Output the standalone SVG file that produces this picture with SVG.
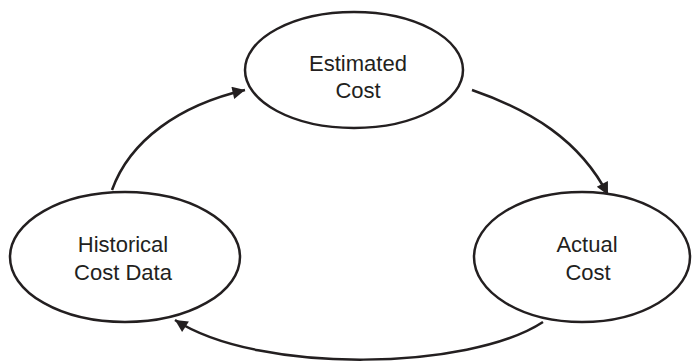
<svg xmlns="http://www.w3.org/2000/svg" width="692" height="364" viewBox="0 0 692 364">
<style>
.node ellipse{fill:#fff;stroke:#231f20;stroke-width:2.5}
.node text{font-family:"Liberation Sans",Arial,sans-serif;font-size:22px;fill:#231f20;text-anchor:middle}
.conn path{fill:none;stroke:#231f20;stroke-width:2.5}
</style>
<defs>
<marker id="arr" viewBox="0 0 10 10" refX="10" refY="5" markerWidth="6.5" markerHeight="5" markerUnits="strokeWidth" orient="auto">
<path d="M0,0 L10,5 L0,10 Z" fill="#231f20"/>
</marker>
</defs>
<rect width="692" height="364" fill="#fff"/>
<g id="connectors" class="conn">
<path d="M112,190 C130,140 180,105 245,90" marker-end="url(#arr)"/>
<path d="M472,90 C530,110 580,140 608,195" marker-end="url(#arr)"/>
<path d="M543,322 C470,370 260,375 175,320" marker-end="url(#arr)"/>
</g>
<g id="estimated" class="node">
<ellipse cx="354" cy="70" rx="109" ry="58"/>
<text x="358" y="71">Estimated</text>
<text x="358" y="98">Cost</text>
</g>
<g id="historical" class="node">
<ellipse cx="125" cy="257" rx="115" ry="65"/>
<text x="123" y="252">Historical</text>
<text x="123" y="280">Cost Data</text>
</g>
<g id="actual" class="node">
<ellipse cx="582" cy="257" rx="108" ry="65"/>
<text x="587" y="252">Actual</text>
<text x="588" y="280">Cost</text>
</g>
</svg>
